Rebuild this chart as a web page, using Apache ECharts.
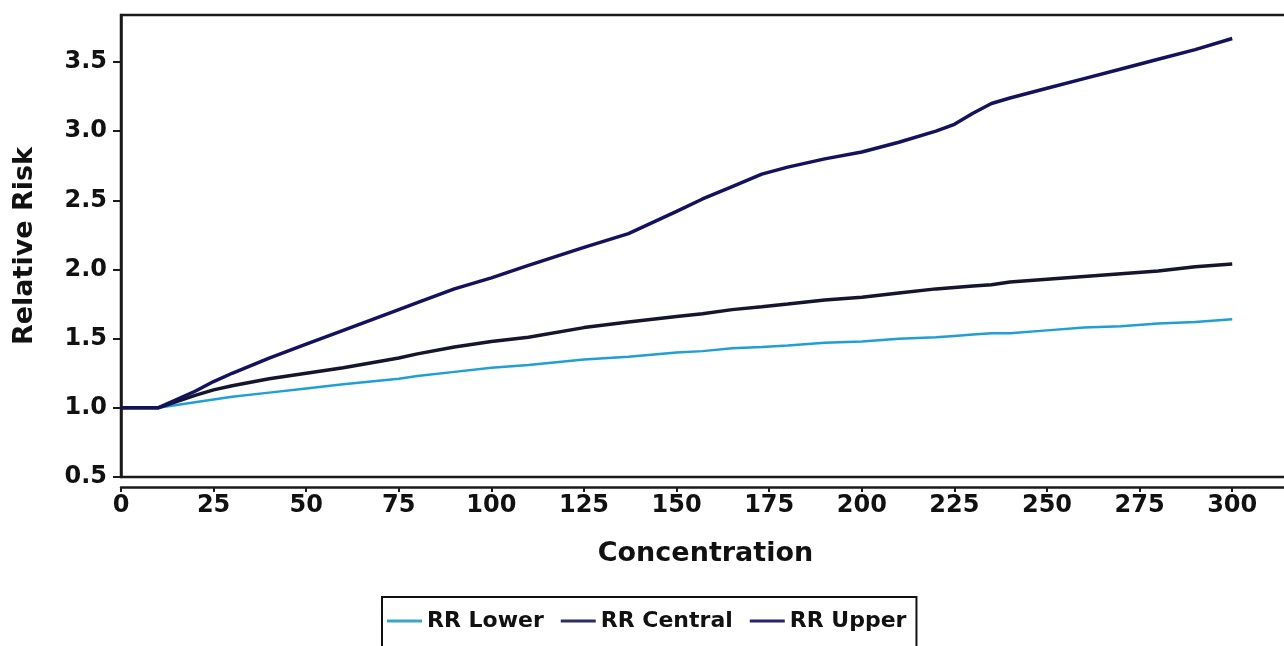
<!DOCTYPE html>
<html>
<head>
<meta charset="utf-8">
<script src="https://cdn.jsdelivr.net/npm/echarts@6/dist/echarts.min.js"></script>
<style>html,body{margin:0;padding:0;background:#fff;}#c{width:1284px;height:646px;}</style>
</head>
<body>
<div id="c"></div>
<script>
const concentration = [0,10,20,25,30,40,50,60,75,80,90,100,110,125,137,150,157,165,173,180,190,200,210,220,225,230,235,240,250,260,270,280,290,300];
const rrLower   = [1.00,1.00,1.04,1.06,1.08,1.11,1.14,1.17,1.21,1.23,1.26,1.29,1.31,1.35,1.37,1.40,1.41,1.43,1.44,1.45,1.47,1.48,1.50,1.51,1.52,1.53,1.54,1.54,1.56,1.58,1.59,1.61,1.62,1.64];
const rrCentral = [1.00,1.00,1.09,1.13,1.16,1.21,1.25,1.29,1.36,1.39,1.44,1.48,1.51,1.58,1.62,1.66,1.68,1.71,1.73,1.75,1.78,1.80,1.83,1.86,1.87,1.88,1.89,1.91,1.93,1.95,1.97,1.99,2.02,2.04];
const rrUpper   = [1.00,1.00,1.12,1.19,1.25,1.36,1.46,1.56,1.71,1.76,1.86,1.94,2.03,2.16,2.26,2.42,2.51,2.60,2.69,2.74,2.80,2.85,2.92,3.00,3.05,3.13,3.20,3.24,3.31,3.38,3.45,3.52,3.59,3.67];
const seriesNames = ['RR Lower','RR Central','RR Upper'];

const pairs = arr => concentration.map((x,i)=>[x,arr[i]]);
const font = 'DejaVu Sans';
const chart = echarts.init(document.getElementById('c'), null, {renderer:'canvas'});
chart.setOption({
  animation:false,
  backgroundColor:'#fff',
  grid:{left:121, right:-6, top:15, bottom:169, outerBoundsMode:'none', containLabel:false,
    show:true, borderColor:'#1a1a1a', borderWidth:2.5, backgroundColor:'#fff'},
  legend:{
    left:382, top:597,
    padding:[13,10,40,5],
    borderColor:'#111', borderWidth:2,
    itemGap:17, itemWidth:35, itemHeight:3,
    icon:'rect',
    textStyle:{fontFamily:font, fontWeight:'bold', fontSize:22, color:'#111'},
    data:[
      {name:seriesNames[0], itemStyle:{color:'#3aa6c4'}},
      {name:seriesNames[1], itemStyle:{color:'#2e2d63'}},
      {name:seriesNames[2], itemStyle:{color:'#25256e'}}
    ]
  },
  xAxis:{
    type:'value', min:0, max:315.6, interval:25,
    offset:10,
    name:'Concentration', nameLocation:'middle', nameGap:53,
    nameTextStyle:{fontFamily:font, fontWeight:'bold', fontSize:27, color:'#111'},
    axisLine:{show:true, lineStyle:{color:'#1a1a1a', width:2.5}},
    axisTick:{show:true, length:5, lineStyle:{color:'#1a1a1a', width:2}},
    axisLabel:{fontFamily:font, fontWeight:'bold', fontSize:24, color:'#111', margin:7, showMaxLabel:false},
    splitLine:{show:false}
  },
  yAxis:{
    type:'value', min:0.5, max:3.84, interval:0.5,
    offset:6,
    name:'Relative Risk', nameLocation:'middle', nameGap:77,
    nameTextStyle:{fontFamily:font, fontWeight:'bold', fontSize:27, color:'#111'},
    axisLine:{show:true, lineStyle:{color:'#1a1a1a', width:2.5}},
    axisTick:{show:true, length:8, lineStyle:{color:'#1a1a1a', width:2}},
    axisLabel:{fontFamily:font, fontWeight:'bold', fontSize:24, color:'#111', margin:8, showMaxLabel:false,
      formatter:v=>v.toFixed(1)},
    splitLine:{show:false}
  },
  series:[
    {name:seriesNames[0], type:'line', data:pairs(rrLower), showSymbol:false, symbol:'none',
      lineStyle:{color:'#1f9fd3', width:2.5}, itemStyle:{color:'#3aa6c4'}, z:2},
    {name:seriesNames[1], type:'line', data:pairs(rrCentral), showSymbol:false, symbol:'none',
      lineStyle:{color:'#15152e', width:3.5}, itemStyle:{color:'#2e2d63'}, z:3},
    {name:seriesNames[2], type:'line', data:pairs(rrUpper), showSymbol:false, symbol:'none',
      lineStyle:{color:'#12125e', width:3.5}, itemStyle:{color:'#25256e'}, z:4}
  ]
});
</script>
</body>
</html>
